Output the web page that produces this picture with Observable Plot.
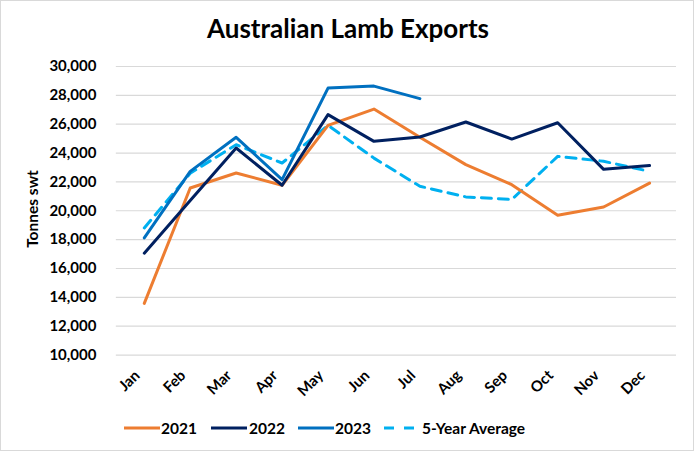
<!DOCTYPE html>
<html>
<head>
<meta charset="utf-8">
<script src="https://cdn.jsdelivr.net/npm/d3@7"></script>
<script src="https://cdn.jsdelivr.net/npm/@observablehq/plot@0.6"></script>
<style>
  html, body { margin: 0; padding: 0; background: #fff; }
  #frame { position: relative; width: 692px; height: 449px; border: 1px solid #d9d9d9; overflow: hidden; font-family: Lato, "Open Sans", sans-serif; }
  #title { position: absolute; left: 0; top: 11px; width: 694px; text-align: center; font-size: 26px; font-weight: bold; color: #000; }
  #chart { position: absolute; left: -1px; top: 49px; }
  #ylabel { position: absolute; left: 31px; top: 208px; transform: translate(-50%, -50%) rotate(-90deg); font-size: 15.5px; font-weight: bold; white-space: nowrap; }
  #legend { position: absolute; left: 0; top: 417px; width: 694px; height: 20px; font-size: 15.5px; font-weight: bold; }
  .sw { position: absolute; top: 0; }
  .lt { position: absolute; top: 0; line-height: 20px; }
</style>
</head>
<body>
<div id="frame">
  <div id="title">Australian Lamb Exports</div>
  <div id="ylabel">Tonnes swt</div>
  <div id="chart"></div>
  <div id="legend"></div>
</div>
<script>
const months = ["Jan","Feb","Mar","Apr","May","Jun","Jul","Aug","Sep","Oct","Nov","Dec"];
const v2021 = [13580, 21580, 22620, 21770, 25920, 27050, 25090, 23200, 21810, 19690, 20260, 21920];
const v2022 = [17060, 20710, 24350, 21770, 26660, 24810, 25110, 26150, 24970, 26100, 22870, 23130];
const v2023 = [18120, 22730, 25090, 22160, 28500, 28640, 27770];
const avg5  = [18810, 22600, 24580, 23310, 25920, 23650, 21700, 20960, 20780, 23770, 23430, 22730];
const yTicks = [10000, 12000, 14000, 16000, 18000, 20000, 22000, 24000, 26000, 28000, 30000];
const seriesNames = ["2021", "2022", "2023", "5-Year Average"];
const seriesColors = ["#ED7D31", "#002060", "#0070C0", "#00B0F0"];

const solid = [];
[[seriesNames[0], v2021], [seriesNames[1], v2022], [seriesNames[2], v2023]].forEach(([s, arr]) =>
  arr.forEach((v, i) => solid.push({series: s, month: months[i], value: v})));
const avgData = avg5.map((v, i) => ({series: seriesNames[3], month: months[i], value: v}));

const chart = Plot.plot({
  width: 694,
  height: 356,
  marginTop: 16,
  marginBottom: 51,
  marginLeft: 116,
  marginRight: 17,
  style: {fontFamily: "Lato, 'Open Sans', sans-serif", fontSize: "15px", fontWeight: "bold", color: "#000"},
  x: {type: "point", domain: months, padding: 0.5, label: null},
  y: {domain: [10000, 30000], label: null},
  color: {domain: seriesNames, range: seriesColors},
  marks: [
    Plot.gridY(yTicks, {stroke: "#d9d9d9", strokeOpacity: 1, strokeWidth: 1.2}),
    Plot.axisY(yTicks, {tickSize: 0, tickPadding: 20, tickFormat: d3.format(","), fontSize: 15, fontWeight: "bold", label: null}),
    Plot.axisX({tickSize: 0, tickRotate: -45, tickPadding: 14, dx: -7, dy: 4, fontSize: 15, fontWeight: "bold", label: null}),
    Plot.line(avgData, {x: "month", y: "value", stroke: "series", strokeWidth: 3, strokeDasharray: "10,7"}),
    Plot.line(solid, {x: "month", y: "value", z: "series", stroke: "series", strokeWidth: 3})
  ]
});
document.getElementById("chart").appendChild(chart);

const legend = document.getElementById("legend");
const swLeft = [122, 209, 296, 382];
const txtLeft = [160, 248, 334, 421];
seriesNames.forEach((s, i) => {
  const ns = "http://www.w3.org/2000/svg";
  const svg = document.createElementNS(ns, "svg");
  svg.setAttribute("class", "sw");
  svg.setAttribute("width", 38);
  svg.setAttribute("height", 20);
  svg.style.left = swLeft[i] + "px";
  const ln = document.createElementNS(ns, "line");
  ln.setAttribute("x1", 1);
  ln.setAttribute("x2", i === 3 ? 32 : 37);
  ln.setAttribute("y1", 10);
  ln.setAttribute("y2", 10);
  ln.setAttribute("stroke", seriesColors[i]);
  ln.setAttribute("stroke-width", 3);
  if (i === 3) ln.setAttribute("stroke-dasharray", "10,10");
  svg.appendChild(ln);
  legend.appendChild(svg);
  const t = document.createElement("span");
  t.className = "lt";
  t.style.left = txtLeft[i] + "px";
  t.textContent = s;
  legend.appendChild(t);
});
</script>
</body>
</html>
